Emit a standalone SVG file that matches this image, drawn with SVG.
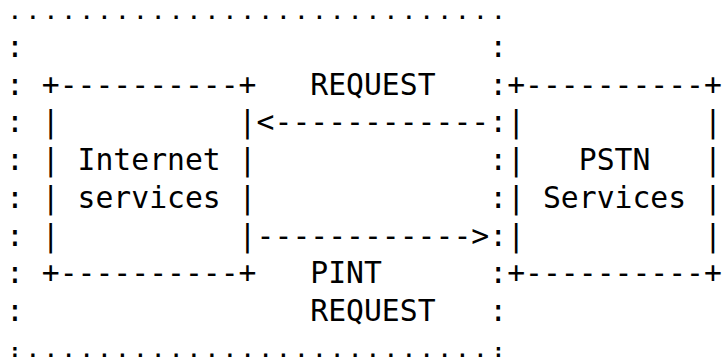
<svg xmlns="http://www.w3.org/2000/svg" width="725" height="362" viewBox="0 0 725 362">
<style>
text{font-family:"DejaVu Sans Mono","Liberation Mono",monospace;font-size:29.73px;fill:#000;white-space:pre}
text.edge{font-size:19.5px;font-weight:bold;letter-spacing:6.16px}
</style>
<rect width="725" height="362" fill="#fff"/>
<g id="outer-boundary">
<text class="edge" x="9.08" y="18.6" xml:space="preserve">............................</text>
<text x="6" y="56.75">:</text><text x="489.3" y="56.75">:</text>
<text x="6" y="94.5">:</text><text x="489.3" y="94.5">:</text>
<text x="6" y="132.25">:</text><text x="489.3" y="132.25">:</text>
<text x="6" y="170">:</text><text x="489.3" y="170">:</text>
<text x="6" y="207.75">:</text><text x="489.3" y="207.75">:</text>
<text x="6" y="245.5">:</text><text x="489.3" y="245.5">:</text>
<text x="6" y="283.25">:</text><text x="489.3" y="283.25">:</text>
<text x="6" y="321">:</text><text x="489.3" y="321">:</text>
<text class="edge" x="9.08" y="357" xml:space="preserve">:..........................:</text>
</g>
<g id="internet-services">
<text x="41.8" y="94.5" xml:space="preserve">+----------+</text>
<text x="41.8" y="132.25" xml:space="preserve">|          |</text>
<text x="41.8" y="170" xml:space="preserve">| Internet |</text>
<text x="41.8" y="207.75" xml:space="preserve">| services |</text>
<text x="41.8" y="245.5" xml:space="preserve">|          |</text>
<text x="41.8" y="283.25" xml:space="preserve">+----------+</text>
</g>
<g id="pstn-services">
<text x="507.2" y="94.5" xml:space="preserve">+----------+</text>
<text x="507.2" y="132.25" xml:space="preserve">|          |</text>
<text x="507.2" y="170" xml:space="preserve">|   PSTN   |</text>
<text x="507.2" y="207.75" xml:space="preserve">| Services |</text>
<text x="507.2" y="245.5" xml:space="preserve">|          |</text>
<text x="507.2" y="283.25" xml:space="preserve">+----------+</text>
</g>
<g id="connectors">
<text x="310.3" y="94.5">REQUEST</text>
<text x="256.6" y="132.25" xml:space="preserve">&lt;------------</text>
<text x="256.6" y="245.5" xml:space="preserve">------------&gt;</text>
<text x="310.3" y="283.25">PINT</text>
<text x="310.3" y="321">REQUEST</text>
</g>
</svg>
